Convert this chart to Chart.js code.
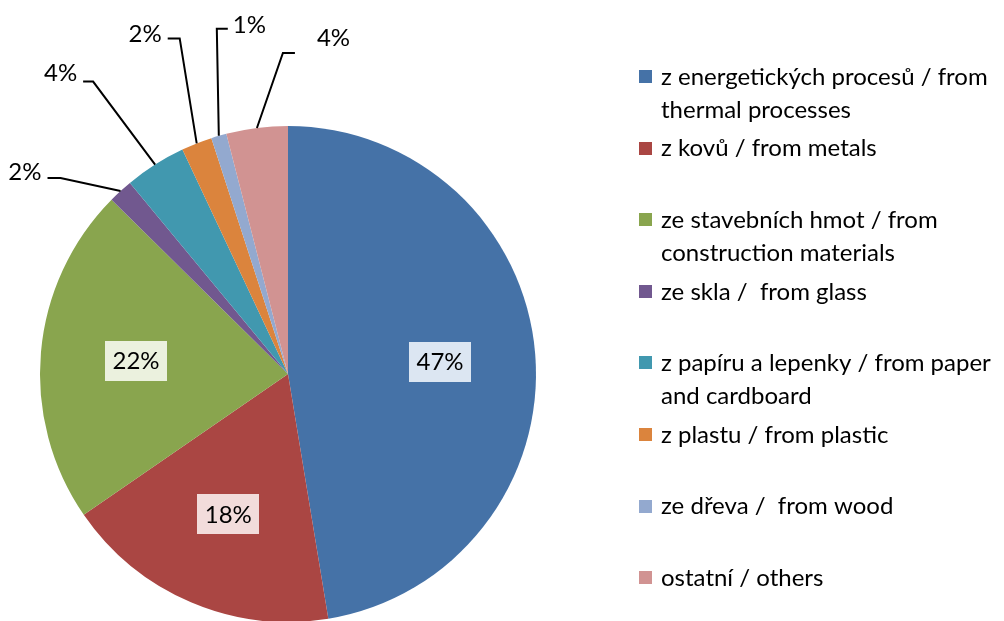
<!DOCTYPE html>
<html>
<head>
<meta charset="utf-8">
<script src="https://cdn.jsdelivr.net/npm/chart.js@4.4.1/dist/chart.umd.min.js"></script>
<style>
    html, body { margin: 0; padding: 0; background: #fff; }
    #wrap { width: 1004px; height: 621px; overflow: hidden; position: relative; }
    #box { width: 1004px; height: 624px; position: relative; }
</style>
</head>
<body>
<div id="wrap"><div id="box"><canvas id="pieChart"></canvas></div></div>
<script>
// Waste categories (Czech / English), values in %
const legendLines = [
    ['z energetických procesů / from', 'thermal processes'],
    ['z kovů / from metals'],
    ['ze stavebních hmot / from', 'construction materials'],
    ['ze skla /  from glass'],
    ['z papíru a lepenky / from paper', 'and cardboard'],
    ['z plastu / from plastic'],
    ['ze dřeva /  from wood'],
    ['ostatní / others']
];
const categories = legendLines.map(l => l.join(' '));
const shares = [47.4, 18.0, 22.0, 1.6, 4.0, 2.0, 1.0, 4.0];

const sliceColors = ['#4572A7', '#AA4643', '#89A54E', '#71588F', '#4198AF', '#DB843D', '#93A9CF', '#D19392'];
const labelBoxColors = ['#DCE6F2', '#F2DCDB', '#EBF1DE'];

// callout placement for the small slices: [elbow dx, elbow dy, tail, text dx, text dy]
const callouts = {
    3: [-60, -13, -13, -6, -6],
    4: [-62, -83, -10, -6, -8],
    5: [-17, -105, -12, -6, -4],
    6: [-2, -107, 11, 5, -4],
    7: [26, -75, 12, 22, -15]
};

const FONT = '24px Lato, "Open Sans", sans-serif';

const pieLabels = {
    id: 'pieLabels',
    afterDatasetsDraw(chart) {
        const ctx = chart.ctx;
        const meta = chart.getDatasetMeta(0);
        ctx.save();
        ctx.font = FONT;
        ctx.textBaseline = 'middle';
        meta.data.forEach((arc, i) => {
            const mid = (arc.startAngle + arc.endAngle) / 2;
            const txt = Math.round(shares[i]) + '%';
            if (shares[i] >= 10) {
                const r = arc.outerRadius * 0.615;
                const cx = arc.x + Math.cos(mid) * r;
                const cy = arc.y + Math.sin(mid) * r;
                ctx.fillStyle = labelBoxColors[i];
                ctx.fillRect(Math.round(cx - 31), Math.round(cy - 20), 62, 40);
                ctx.fillStyle = '#000';
                ctx.textAlign = 'center';
                ctx.fillText(txt, cx, cy + 1);
                return;
            }
            const c = callouts[i];
            if (!c) return;
            const ex = arc.x + Math.cos(mid) * arc.outerRadius;
            const ey = arc.y + Math.sin(mid) * arc.outerRadius;
            const bx = ex + c[0], by = ey + c[1];
            const tx = bx + c[2];
            ctx.strokeStyle = '#000';
            ctx.lineWidth = 2;
            ctx.beginPath();
            ctx.moveTo(ex, ey);
            ctx.lineTo(bx, by);
            ctx.lineTo(tx, by);
            ctx.stroke();
            ctx.fillStyle = '#000';
            ctx.textAlign = c[2] < 0 ? 'right' : 'left';
            ctx.fillText(txt, tx + c[3], by + c[4]);
        });
        ctx.restore();
    }
};

// Legend drawn on the canvas so the odd Excel spacing can be kept
const sideLegend = {
    id: 'sideLegend',
    afterDraw(chart) {
        const ctx = chart.ctx;
        const x0 = 639, y0 = 77, step = 71.6, lineH = 33;
        ctx.save();
        ctx.font = FONT;
        ctx.textBaseline = 'middle';
        ctx.textAlign = 'left';
        legendLines.forEach((lines, i) => {
            const y = y0 + i * step;
            ctx.fillStyle = sliceColors[i];
            ctx.fillRect(x0, Math.round(y - 7), 13, 13);
            ctx.fillStyle = '#000';
            lines.forEach((t, k) => ctx.fillText(t, x0 + 22, y + k * lineH));
        });
        ctx.restore();
    }
};

new Chart(document.getElementById('pieChart'), {
    type: 'pie',
    data: {
        labels: categories,
        datasets: [{
            data: shares,
            backgroundColor: sliceColors,
            borderWidth: 0
        }]
    },
    options: {
        responsive: true,
        maintainAspectRatio: false,
        animation: false,
        layout: { padding: { left: 40, right: 468, top: 126, bottom: 2 } },
        plugins: {
            legend: { display: false },
            tooltip: { enabled: false }
        }
    },
    plugins: [pieLabels, sideLegend]
});
</script>
</body>
</html>
